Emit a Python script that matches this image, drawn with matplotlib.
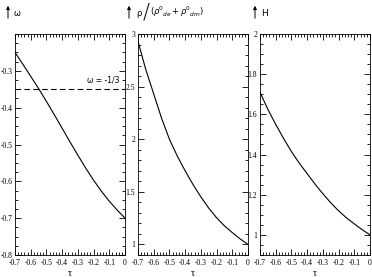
import matplotlib
matplotlib.use("Agg")
import matplotlib.pyplot as plt
from matplotlib.ticker import MultipleLocator

# values
tau = [-0.7, -0.65, -0.6, -0.55, -0.5, -0.45, -0.4, -0.35, -0.3,
       -0.25, -0.2, -0.15, -0.1, -0.05, 0.0]
omega = [-0.250, -0.282, -0.315, -0.348, -0.383, -0.419, -0.456, -0.493, -0.529,
         -0.564, -0.597, -0.627, -0.654, -0.678, -0.700]
rho = [2.93, 2.66, 2.43, 2.20, 2.0, 1.84, 1.70, 1.57, 1.452,
       1.346, 1.254, 1.177, 1.113, 1.053, 1.0]
hub = [1.71, 1.625, 1.55, 1.48, 1.415, 1.357, 1.305, 1.253, 1.205,
       1.16, 1.12, 1.085, 1.055, 1.026, 1.0]

omega_ref = -0.35
xticks = [-0.7, -0.6, -0.5, -0.4, -0.3, -0.2, -0.1, 0]
xlabels = ['-0.7', '-0.6', '-0.5', '-0.4', '-0.3', '-0.2', '-0.1', '0']

serif = 'Liberation Serif'
W, H = 372, 277
fig = plt.figure(figsize=(W / 100, H / 100), dpi=100)

def make_ax(left_px, yticks, ylabels, ylim, yminor):
    ax = fig.add_axes([left_px / W, 22 / H, 110 / W, 221 / H])
    ax.set_xlim(-0.7, 0)
    ax.set_ylim(*ylim)
    ax.set_xticks(xticks)
    ax.set_xticklabels(xlabels)
    ax.set_yticks(yticks)
    ax.set_yticklabels(ylabels)
    ax.xaxis.set_minor_locator(MultipleLocator(0.02))
    ax.yaxis.set_minor_locator(MultipleLocator(yminor))
    ax.tick_params(which='both', direction='in', top=True, right=True,
                   width=0.6, labelsize=5.5)
    ax.tick_params(axis='x', pad=3)
    ax.tick_params(axis='y', pad=2)
    ax.tick_params(which='major', length=4)
    ax.tick_params(which='minor', length=2)
    for lab in ax.get_xticklabels() + ax.get_yticklabels():
        lab.set_family(serif)
    for s in ax.spines.values():
        s.set_linewidth(0.6)
    ax.set_xlabel('τ', family=serif, fontsize=7, labelpad=1)
    return ax

ax1 = make_ax(15, [-0.8, -0.7, -0.6, -0.5, -0.4, -0.3],
              ['-0.8', '-0.7', '-0.6', '-0.5', '-0.4', '-0.3'], (-0.8, -0.2), 0.025)
ax1.plot(tau, omega, color='black', lw=0.8)
ax1.axhline(omega_ref, color='black', lw=0.8, ls=(0, (5, 3)))
ax1.text(-0.14, omega_ref + 0.012, 'ω = -1/3', fontsize=5.5, ha='center', va='bottom')

ax2 = make_ax(138, [1, 1.5, 2, 2.5, 3], ['1', '1.5', '2', '2.5', '3'], (0.9, 3), 0.1)
ax2.plot(tau, rho, color='black', lw=0.8)

ax3 = make_ax(260, [1, 1.2, 1.4, 1.6, 1.8, 2], ['1', '1.2', '1.4', '1.6', '1.8', '2'],
              (0.9, 2), 0.05)
ax3.plot(tau, hub, color='black', lw=0.8)

# arrows with quantity names above each panel
def arrow(x_px):
    fig.patches.append(matplotlib.patches.FancyArrowPatch(
        (x_px / W, 1 - 21 / H), (x_px / W, 1 - 3 / H), transform=fig.transFigure,
        arrowstyle='-|>', mutation_scale=5, lw=0.7, color='black'))

arrow(8)
fig.text(14 / W, 1 - 13 / H, 'ω', fontsize=6, va='center', ha='left')
arrow(129)
fig.text(136 / W, 1 - 13 / H, 'ρ', fontsize=6, va='center', ha='left')
fig.text(143 / W, 1 - 13 / H, '/', fontsize=15, va='center', ha='left', fontweight='light')
fig.text(150 / W, 1 - 12 / H, r'$(\rho^{0}_{\ \ de}+\rho^{0}_{\ \ dm})$', fontsize=6,
         va='center', ha='left')
arrow(255)
fig.text(261 / W, 1 - 13 / H, 'H', fontsize=6.5, va='center', ha='left')

fig.savefig('out.png', dpi=100)
